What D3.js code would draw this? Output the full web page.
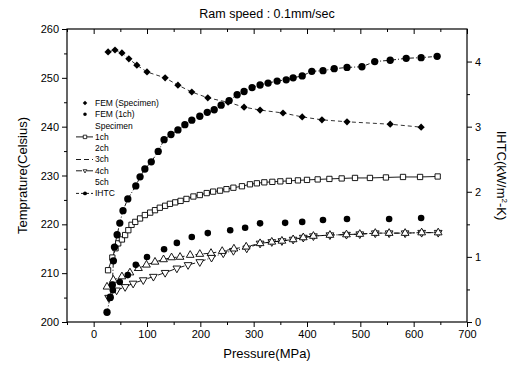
<!DOCTYPE html>
<html>
<head>
<meta charset="utf-8">
<script src="https://cdn.jsdelivr.net/npm/d3@7"></script>
<style>
  body { margin: 0; background: #fff; }
  svg { display: block; font-family: Arial, "Liberation Sans", sans-serif; }
</style>
</head>
<body>
<div id="chart"></div>
<script>
// values (pressure in MPa, temperature in Celsius, IHTC in kW/m2-K)
const femPressure = [27, 40, 53, 66, 81, 100, 134, 158, 184, 214, 252, 282, 312, 355, 391, 428, 475, 556, 614];
const femSpecimenTemp = [255.3, 255.7, 255.1, 253.9, 252.6, 251.2, 250.0, 248.5, 247.1, 245.9, 245.0, 244.0, 243.4, 242.8, 242.0, 241.4, 241.0, 240.5, 239.9];

const fem1chPressure = [31, 36, 49, 64, 79, 100, 132, 156, 184, 214, 256, 284, 312, 359, 391, 430, 475, 554, 614];
const fem1chTemp = [204.9, 206.5, 208.2, 209.6, 211.7, 213.3, 214.9, 216.2, 217.4, 218.2, 218.8, 219.3, 220.2, 220.3, 220.5, 220.9, 221.1, 221.1, 221.3];

const ch1Pressure = [27, 35, 41, 46, 53, 59, 65, 71, 78, 87, 96, 106, 115, 124, 134, 143, 153, 163, 174, 187, 199, 212, 224, 237, 249, 262, 278, 293, 306,
  320, 335, 350, 366, 383, 400, 420, 442, 465, 490, 518, 548, 580, 612, 645];
const ch1Temp = [210.6, 213.2, 215.1, 216.1, 216.9, 217.8, 218.8, 219.9, 220.5, 221.2, 221.9, 222.4, 222.9, 223.4, 223.8, 224.2, 224.5, 224.8, 225.2, 225.7, 226.0, 226.4, 226.7, 226.9, 227.2, 227.5, 227.8, 228.2, 228.4,
  228.6, 228.7, 228.8, 228.9, 229.0, 229.1, 229.2, 229.3, 229.4, 229.5, 229.5, 229.6, 229.7, 229.7, 229.8];

const ch3Pressure = [25, 37, 53, 68, 84, 99, 115, 131, 146, 162, 181, 199, 220, 241, 263, 286, 312, 334, 353, 374, 393, 412, 443, 474, 499, 528, 554, 584, 615, 646];
const ch3Temp = [207.2, 208.6, 209.3, 210.1, 211.0, 211.7, 212.3, 212.8, 213.2, 213.3, 213.7, 213.9, 214.1, 214.5, 215.0, 215.4, 216.1, 216.4, 216.6, 216.9, 217.3, 217.6, 217.8, 217.9, 218.0, 218.2, 218.2, 218.2, 218.3, 218.3];

const ch4Pressure = [28, 43, 59, 74, 93, 112, 134, 156, 177, 199, 221, 243, 262, 287, 312, 334, 353, 374, 393, 412, 443, 474, 499, 528, 554, 584, 615, 646];
const ch4Temp = [205.0, 206.5, 207.2, 207.9, 208.6, 209.3, 210.1, 211.0, 211.7, 212.3, 213.2, 214.1, 214.6, 215.1, 216.1, 216.4, 216.6, 216.9, 217.3, 217.6, 217.8, 217.9, 218.0, 218.2, 218.2, 218.2, 218.3, 218.3];

const ihtcPressure = [25, 31, 35, 37, 39, 44, 49, 55, 64, 79, 87, 96, 108, 121, 132, 145, 158, 171, 184, 199, 213, 226, 239, 254, 269, 282, 297, 312, 327, 344, 361, 374, 391, 409, 430, 451, 475, 503, 527, 556, 586, 614, 644];
const ihtcValue = [0.15, 0.38, 0.57, 0.94, 1.15, 1.34, 1.52, 1.71, 1.89, 2.09, 2.23, 2.35, 2.46, 2.62, 2.80, 2.88, 2.95, 3.03, 3.10, 3.16, 3.22, 3.26, 3.33, 3.40, 3.49, 3.54, 3.60, 3.64, 3.67, 3.70, 3.72, 3.75, 3.78, 3.85, 3.86, 3.89, 3.91, 3.92, 4.00, 4.02, 4.05, 4.06, 4.08];

const legendLabels = ["FEM (Specimen)", "FEM (1ch)", "Specimen", "1ch", "2ch", "3ch", "4ch", "5ch", "IHTC"];
const xTicks = [0, 100, 200, 300, 400, 500, 600, 700];
const yTicks = [200, 210, 220, 230, 240, 250, 260];
const y2Ticks = [0, 1, 2, 3, 4];

const width = 514, height = 368;
const margin = { top: 29, right: 47, bottom: 46, left: 67 };

const svg = d3.select("#chart").append("svg")
  .attr("width", width)
  .attr("height", height);

const x = d3.scaleLinear().domain([-50, 700]).range([margin.left, width - margin.right]);
const y = d3.scaleLinear().domain([200, 260]).range([height - margin.bottom, margin.top]);
const y2 = d3.scaleLinear().domain([0, 4.5]).range([height - margin.bottom, margin.top]);

const zip = (a, b) => a.map((d, i) => [d, b[i]]);

// axes -------------------------------------------------------------
const bottom = height - margin.bottom, right = width - margin.right;

const axisStyle = g => {
  g.select(".domain").remove();
  g.selectAll("line").attr("stroke", "#000").attr("stroke-width", 1);
  g.selectAll("text").attr("fill", "#000").attr("font-size", 11);
};

svg.append("g").attr("transform", `translate(0,${bottom})`)
  .call(d3.axisBottom(x).tickValues(xTicks).tickSize(5).tickPadding(3))
  .call(axisStyle);
svg.append("g").attr("transform", `translate(0,${bottom})`)
  .call(d3.axisBottom(x).tickValues(d3.range(-50, 700, 100)).tickSize(3).tickFormat(""))
  .call(axisStyle);
svg.append("g").attr("transform", `translate(0,${margin.top})`)
  .call(d3.axisTop(x).tickValues(xTicks).tickSize(-5).tickFormat(""))
  .call(axisStyle);
svg.append("g").attr("transform", `translate(0,${margin.top})`)
  .call(d3.axisTop(x).tickValues(d3.range(-50, 700, 100)).tickSize(-3).tickFormat(""))
  .call(axisStyle);

svg.append("g").attr("transform", `translate(${margin.left},0)`)
  .call(d3.axisLeft(y).tickValues(yTicks).tickSize(5).tickPadding(3))
  .call(axisStyle);
svg.append("g").attr("transform", `translate(${margin.left},0)`)
  .call(d3.axisLeft(y).tickValues(d3.range(205, 260, 10)).tickSize(3).tickFormat(""))
  .call(axisStyle);

svg.append("g").attr("transform", `translate(${right},0)`)
  .call(d3.axisRight(y2).tickValues(y2Ticks).tickSize(5).tickPadding(3).tickFormat(d3.format("d")))
  .call(axisStyle);
svg.append("g").attr("transform", `translate(${right},0)`)
  .call(d3.axisRight(y2).tickValues([0.5, 1.5, 2.5, 3.5]).tickSize(3).tickFormat(""))
  .call(axisStyle);

// frame
svg.append("rect")
  .attr("x", margin.left).attr("y", margin.top)
  .attr("width", right - margin.left).attr("height", bottom - margin.top)
  .attr("fill", "none").attr("stroke", "#000").attr("stroke-width", 1.2);

// titles
svg.append("text").attr("x", (margin.left + right) / 2).attr("y", 18)
  .attr("text-anchor", "middle").attr("font-size", 12.5).text("Ram speed : 0.1mm/sec");
svg.append("text").attr("x", (margin.left + right) / 2).attr("y", 358)
  .attr("text-anchor", "middle").attr("font-size", 13).text("Pressure(MPa)");
svg.append("text")
  .attr("transform", `translate(27,${(margin.top + bottom) / 2}) rotate(-90)`)
  .attr("text-anchor", "middle").attr("font-size", 13).text("Temprature(Celsius)");
const rLab = svg.append("text")
  .attr("transform", `translate(497,${(margin.top + bottom) / 2}) rotate(90)`)
  .attr("text-anchor", "middle").attr("font-size", 13);
rLab.append("tspan").text("IHTC(kW/m");
rLab.append("tspan").attr("font-size", 8).attr("dy", -5).text("2");
rLab.append("tspan").attr("dy", 5).text("-K)");

// series -----------------------------------------------------------
const plot = svg.append("g");
const lineT = d3.line().x(d => x(d[0])).y(d => y(d[1]));
const lineI = d3.line().x(d => x(d[0])).y(d => y2(d[1]));

const sq = d3.symbol().type(d3.symbolSquare);
const tri = d3.symbol().type(d3.symbolTriangle);
const circ = d3.symbol().type(d3.symbolCircle);

function drawLine(data, gen, dash, w) {
  plot.append("path").datum(data).attr("d", gen)
    .attr("fill", "none").attr("stroke", "#000")
    .attr("stroke-width", w).attr("stroke-dasharray", dash);
}

function drawMarks(data, ys, path, fill, rot) {
  plot.append("g").selectAll("path").data(data).join("path")
    .attr("transform", d => `translate(${x(d[0])},${ys(d[1])}) rotate(${rot})`)
    .attr("d", path)
    .attr("fill", fill ? "#000" : "#fff")
    .attr("stroke", "#000").attr("stroke-width", fill ? 0 : 0.9);
}

const femSpec = zip(femPressure, femSpecimenTemp);
const fem1ch = zip(fem1chPressure, fem1chTemp);
const ch1 = zip(ch1Pressure, ch1Temp);
const ch3 = zip(ch3Pressure, ch3Temp);
const ch4 = zip(ch4Pressure, ch4Temp);
const ihtc = zip(ihtcPressure, ihtcValue);

drawLine(femSpec, lineT, "4,3", 0.8);
drawLine(ch1, lineT, null, 0.9);
drawLine(ch3, lineT, "5,3", 0.9);
drawLine(ch4, lineT, "6,2,1,2", 0.9);
drawLine(ihtc, lineI, "4,2,1,2", 0.9);

drawMarks(ch1, y, sq.size(28)(), false, 0);
drawMarks(ch4, y, tri.size(26)(), false, 180);
drawMarks(ch3, y, tri.size(26)(), false, 0);
drawMarks(fem1ch, y, circ.size(34)(), true, 0);
drawMarks(femSpec, y, sq.size(26)(), true, 45);
drawMarks(ihtc, y2, circ.size(42)(), true, 0);

// legend ------------------------------------------------------------
const legendStyles = {
  "FEM (Specimen)": { mark: sq.size(10)(), rot: 45, fill: true, line: false },
  "FEM (1ch)": { mark: circ.size(10)(), rot: 0, fill: true, line: false },
  "Specimen": { mark: null },
  "1ch": { mark: sq.size(12)(), rot: 0, fill: false, line: true, dash: null },
  "2ch": { mark: null },
  "3ch": { mark: null, line: true, dash: "5,3" },
  "4ch": { mark: tri.size(6)(), rot: 180, fill: false, line: true, dash: "6,2,1,2" },
  "5ch": { mark: null },
  "IHTC": { mark: circ.size(12)(), rot: 0, fill: true, line: true, dash: "3,2" }
};

const legend = svg.append("g").attr("font-size", 8.5)
  .selectAll("g").data(legendLabels).join("g")
  .attr("transform", (d, i) => `translate(85,${103 + i * 11.3})`);

legend.filter(d => legendStyles[d].line).append("line")
  .attr("x1", -9).attr("x2", 8)
  .attr("stroke", "#000").attr("stroke-width", 0.9)
  .attr("stroke-dasharray", d => legendStyles[d].dash);

legend.filter(d => legendStyles[d].mark).append("path")
  .attr("d", d => legendStyles[d].mark)
  .attr("transform", d => `rotate(${legendStyles[d].rot})`)
  .attr("fill", d => legendStyles[d].fill ? "#000" : "#fff")
  .attr("stroke", "#000").attr("stroke-width", d => legendStyles[d].fill ? 0 : 0.8);

legend.append("text").attr("x", 10).attr("dy", "0.35em").text(d => d);
</script>
</body>
</html>
